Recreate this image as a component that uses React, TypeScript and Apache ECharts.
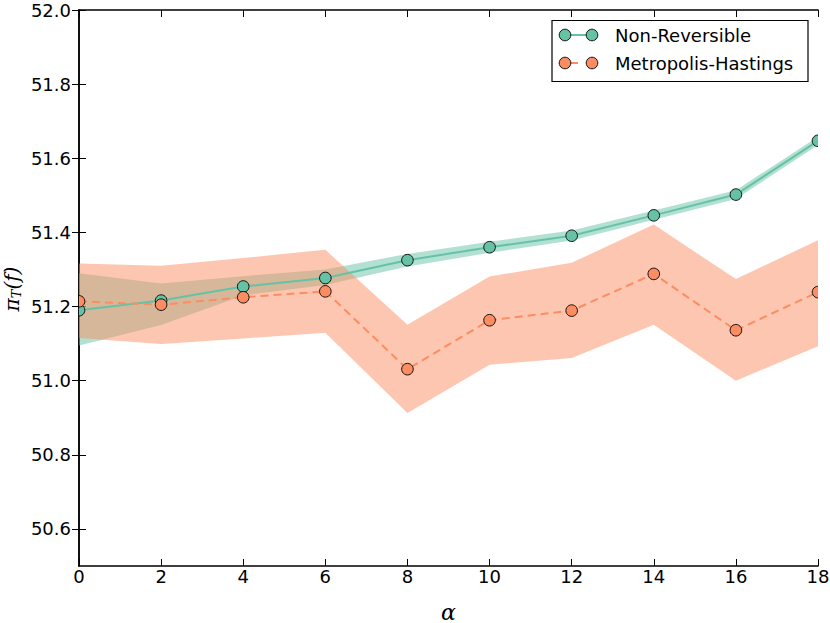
import React, { useEffect, useRef } from "react";
import * as echarts from "echarts";

const alphas = [0, 2, 4, 6, 8, 10, 12, 14, 16, 18];
const nrMean = [51.19, 51.216, 51.254, 51.277, 51.325, 51.36, 51.391, 51.446, 51.502, 51.647];
const nrLower = [51.095, 51.15, 51.23, 51.258, 51.308, 51.345, 51.378, 51.434, 51.49, 51.636];
const nrUpper = [51.29, 51.262, 51.282, 51.3, 51.342, 51.375, 51.405, 51.459, 51.514, 51.658];
const mhMean = [51.214, 51.205, 51.225, 51.241, 51.031, 51.163, 51.189, 51.288, 51.136, 51.239];
const mhLower = [51.115, 51.099, 51.114, 51.129, 50.913, 51.043, 51.061, 51.151, 51.0, 51.093];
const mhUpper = [51.316, 51.31, 51.331, 51.353, 51.151, 51.281, 51.318, 51.421, 51.274, 51.379];
const yTicks = [50.6, 50.8, 51.0, 51.2, 51.4, 51.6, 51.8, 52.0];
const xTicks = [0, 2, 4, 6, 8, 10, 12, 14, 16, 18];
const seriesNames = ["Non-Reversible", "Metropolis-Hastings"];
const colors = ["#66c2a5", "#fc8d62"];

const FONT = "DejaVu Sans";

function pairs(ys: number[]) {
  return alphas.map((x, i) => [x, ys[i]]);
}

export default function App() {
  const ref = useRef<HTMLDivElement>(null);
  useEffect(() => {
    if (!ref.current) return;
    const chart = echarts.init(ref.current, undefined, { renderer: "svg" });
    const axisLine = { show: true, lineStyle: { color: "#000", width: 1.5 } };
    const tick = (vals: number[]) => ({
      show: true,
      inside: true,
      length: 7,
      customValues: vals,
      lineStyle: { color: "#000", width: 1 },
    });
    const band = (name: string, lo: number[], hi: number[], color: string, z: number) => ({
      name,
      type: "custom",
      data: alphas.map((x, i) => [x, lo[i], hi[i]]),
      clip: true,
      silent: true,
      z,
      renderItem: (params: any, api: any) => {
        if (params.dataIndex !== 0) return null;
        const top = alphas.map((x, i) => api.coord([x, hi[i]]));
        const bot = alphas.map((x, i) => api.coord([x, lo[i]])).reverse();
        return {
          type: "polygon",
          shape: { points: top.concat(bot) },
          style: { fill: color, stroke: "none" },
        };
      },
    });
    const markers = (name: string, ys: number[], color: string, z: number) => ({
      name: name + " markers",
      type: "custom",
      data: pairs(ys),
      clip: true,
      z,
      renderItem: (params: any, api: any) => {
        const p = api.coord([api.value(0), api.value(1)]);
        return {
          type: "circle",
          shape: { cx: p[0], cy: p[1], r: 5.8 },
          style: { fill: color, stroke: "#111", lineWidth: 1 },
        };
      },
    });
    const option: any = {
      animation: false,
      grid: { left: 79, right: 12, top: 10, bottom: 57, containLabel: false, outerBoundsMode: "none" },
      xAxis: [
        {
          type: "value",
          min: 0,
          max: 18,
          interval: 2,
          position: "bottom",
          axisLine,
          axisTick: tick(xTicks),
          splitLine: { show: false },
          axisLabel: {
            show: true,
            color: "#000",
            fontSize: 18,
            fontFamily: FONT,
            margin: 1,
            customValues: xTicks,
          },
          name: "α",
          nameLocation: "middle",
          nameGap: 35,
          nameTextStyle: { fontFamily: "DejaVu Serif", fontStyle: "italic", fontSize: 22, color: "#000" },
        },
        {
          type: "value",
          min: 0,
          max: 18,
          interval: 2,
          position: "top",
          axisLine,
          axisTick: tick(xTicks),
          splitLine: { show: false },
          axisLabel: { show: false },
        },
      ],
      yAxis: [
        {
          type: "value",
          min: 50.5,
          max: 52.0,
          position: "left",
          axisLine,
          axisTick: tick(yTicks),
          splitLine: { show: false },
          axisLabel: {
            show: true,
            color: "#000",
            fontSize: 18,
            fontFamily: FONT,
            margin: 8,
            customValues: yTicks,
            formatter: (v: number) => v.toFixed(1),
          },
        },
        {
          type: "value",
          min: 50.5,
          max: 52.0,
          position: "right",
          axisLine,
          axisTick: tick(yTicks),
          splitLine: { show: false },
          axisLabel: { show: false },
        },
      ],
      series: [
        band("nr band", nrLower, nrUpper, "rgba(102,194,165,0.5)", 1),
        band("mh band", mhLower, mhUpper, "rgba(252,141,98,0.5)", 2),
        {
          name: seriesNames[0],
          type: "line",
          data: pairs(nrMean),
          symbol: "none",
          lineStyle: { color: colors[0], width: 2 },
          z: 3,
        },
        markers(seriesNames[0], nrMean, colors[0], 4),
        {
          name: seriesNames[1],
          type: "line",
          data: pairs(mhMean),
          symbol: "none",
          lineStyle: { color: colors[1], width: 2, type: [8, 5] },
          z: 5,
        },
        markers(seriesNames[1], mhMean, colors[1], 6),
      ],
      graphic: [
        {
          type: "text",
          x: 12,
          y: 289,
          rotation: Math.PI / 2,
          style: {
            text: "{a|π}{s|T}{a|(}{f|f}{a|)}",
            align: "center",
            verticalAlign: "middle",
            fill: "#000",
            rich: {
              a: { fontFamily: "DejaVu Serif", fontStyle: "italic", fontSize: 20, lineHeight: 22, fill: "#000" },
              f: { fontFamily: "DejaVu Serif", fontStyle: "italic", fontSize: 20, lineHeight: 22, fill: "#000" },
              s: { fontFamily: "DejaVu Serif", fontStyle: "italic", fontSize: 13, lineHeight: 11, verticalAlign: "bottom", fill: "#000" },
            },
          },
          z: 100,
        },
        {
          type: "rect",
          shape: { x: 552, y: 20.5, width: 256, height: 61 },
          style: { fill: "#fff", stroke: "#000", lineWidth: 1.2 },
          z: 100,
        },
        {
          type: "line",
          shape: { x1: 565, y1: 35, x2: 592, y2: 35 },
          style: { stroke: colors[0], lineWidth: 2 },
          z: 101,
        },
        { type: "circle", shape: { cx: 565, cy: 35, r: 5.8 }, style: { fill: colors[0], stroke: "#111", lineWidth: 1 }, z: 102 },
        { type: "circle", shape: { cx: 592, cy: 35, r: 5.8 }, style: { fill: colors[0], stroke: "#111", lineWidth: 1 }, z: 102 },
        {
          type: "text",
          x: 615,
          y: 35,
          style: { text: seriesNames[0], fontFamily: FONT, fontSize: 18, fill: "#000", verticalAlign: "middle", align: "left" },
          z: 102,
        },
        {
          type: "line",
          shape: { x1: 570, y1: 63, x2: 578, y2: 63 },
          style: { stroke: colors[1], lineWidth: 2 },
          z: 101,
        },
        { type: "circle", shape: { cx: 565, cy: 63, r: 5.8 }, style: { fill: colors[1], stroke: "#111", lineWidth: 1 }, z: 102 },
        { type: "circle", shape: { cx: 592, cy: 63, r: 5.8 }, style: { fill: colors[1], stroke: "#111", lineWidth: 1 }, z: 102 },
        {
          type: "text",
          x: 615,
          y: 63,
          style: { text: seriesNames[1], fontFamily: FONT, fontSize: 18, fill: "#000", verticalAlign: "middle", align: "left" },
          z: 102,
        },
      ],
    };
    chart.setOption(option);
    return () => chart.dispose();
  }, []);
  return (
    <div
      ref={ref}
      style={{ position: "fixed", left: 0, top: 0, width: 830, height: 623, background: "#fff" }}
    />
  );
}
